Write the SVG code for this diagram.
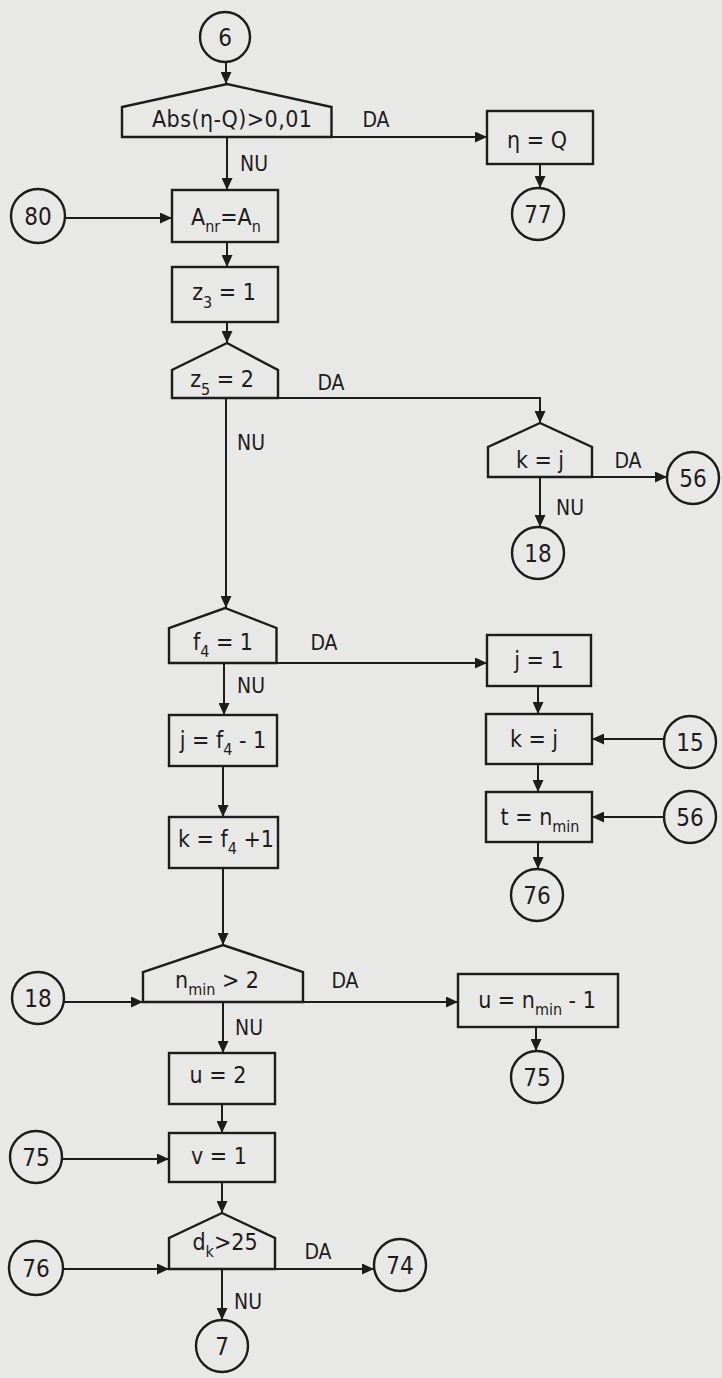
<svg xmlns="http://www.w3.org/2000/svg" width="722" height="1378" viewBox="0 0 722 1378">
<style>
.n{fill:none;stroke:#1c1c1c;stroke-width:2.4;stroke-linejoin:miter}
.c{fill:none;stroke:#1c1c1c;stroke-width:2;marker-end:url(#a)}
text{font-family:"Liberation Sans Narrow","DejaVu Sans Condensed","DejaVu Sans",sans-serif;font-size:23px;fill:#1c1c1c;text-anchor:middle}
.s{font-size:16px}
.k{font-size:21px}
.d{font-size:24px}
</style>
<defs>
<marker id="a" markerWidth="12" markerHeight="11" refX="12" refY="5.5" orient="auto" markerUnits="userSpaceOnUse"><path d="M0,0 L12,5.5 L0,11 z" fill="#1c1c1c"/></marker>
</defs>
<rect width="722" height="1378" fill="#e8e8e6"/>

<g id="connectors">
<path class="c" d="M226,62 V84"/>
<path class="c" d="M331,137 H487"/>
<path class="c" d="M227,137 V190"/>
<path class="c" d="M540,164 V188"/>
<path class="c" d="M65,218 H172"/>
<path class="c" d="M227,242 V267"/>
<path class="c" d="M227,322 V343"/>
<path class="c" d="M278,398 H540 V423"/>
<path class="c" d="M226,398 V608"/>
<path class="c" d="M592,477 H667"/>
<path class="c" d="M540,477 V527"/>
<path class="c" d="M276,663 H487"/>
<path class="c" d="M224,663 V715"/>
<path class="c" d="M538,686 V714"/>
<path class="c" d="M664,739 H592"/>
<path class="c" d="M538,764 V792"/>
<path class="c" d="M664,817 H592"/>
<path class="c" d="M538,842 V869"/>
<path class="c" d="M223,766 V817"/>
<path class="c" d="M223,868 V945"/>
<path class="c" d="M64,1002 H143"/>
<path class="c" d="M303,1002 H458"/>
<path class="c" d="M536,1027 V1051"/>
<path class="c" d="M223,1002 V1053"/>
<path class="c" d="M222,1104 V1133"/>
<path class="c" d="M62,1159 H169"/>
<path class="c" d="M222,1182 V1213"/>
<path class="c" d="M63,1269 H169"/>
<path class="c" d="M275,1269 H374"/>
<path class="c" d="M222,1269 V1320"/>
</g>

<g id="c6"><circle class="n" cx="225" cy="37" r="25"/><text class="d" x="225" y="46">6</text></g>
<g id="dAbs"><path class="n" d="M122,137 V107 L227,84 L331.5,107 V137 Z"/><text x="232" y="127" textLength="160" lengthAdjust="spacing">Abs(η-Q)&gt;0,01</text></g>
<text class="k" x="376" y="127">DA</text>
<text class="k" x="254" y="171">NU</text>
<g id="bEta"><rect class="n" x="487" y="111" width="106" height="53"/><text x="537" y="148">η = Q</text></g>
<g id="c77"><circle class="n" cx="538" cy="214" r="26"/><text class="d" x="538" y="223">77</text></g>
<g id="c80"><circle class="n" cx="38" cy="216" r="27"/><text class="d" x="38" y="225">80</text></g>
<g id="bAnr"><rect class="n" x="172" y="190" width="106" height="52"/><text x="226" y="225">A<tspan class="s" dy="7">nr</tspan><tspan dy="-7">=A</tspan><tspan class="s" dy="7">n</tspan></text></g>
<g id="bZ3"><rect class="n" x="172" y="267" width="106" height="55"/><text x="224" y="300">z<tspan class="s" dy="8">3</tspan><tspan dy="-8"> = 1</tspan></text></g>
<g id="dZ5"><path class="n" d="M172,398 V370 L227,343 L278,370 V398 Z"/><text x="222" y="387">z<tspan class="s" dy="8">5</tspan><tspan dy="-8"> = 2</tspan></text></g>
<text class="k" x="331" y="390">DA</text>
<text class="k" x="251" y="450">NU</text>
<g id="dKj"><path class="n" d="M488,477 V447 L540,423 L592,447 V477 Z"/><text x="540" y="468">k = j</text></g>
<text class="k" x="628" y="468">DA</text>
<text class="k" x="570" y="515">NU</text>
<g id="c56a"><circle class="n" cx="693" cy="478" r="26"/><text class="d" x="693" y="487">56</text></g>
<g id="c18a"><circle class="n" cx="538" cy="553" r="26"/><text class="d" x="538" y="562">18</text></g>
<g id="dF4"><path class="n" d="M169,663 V628 L225,608 L276.5,628 V663 Z"/><text x="223" y="650">f<tspan class="s" dy="7">4</tspan><tspan dy="-7"> = 1</tspan></text></g>
<text class="k" x="324" y="650">DA</text>
<text class="k" x="251" y="693">NU</text>
<g id="bJ1"><rect class="n" x="487" y="635" width="104" height="51"/><text x="539" y="668">j = 1</text></g>
<g id="bJf"><rect class="n" x="169" y="715" width="108" height="51"/><text x="223" y="748">j = f<tspan class="s" dy="7">4</tspan><tspan dy="-7"> - 1</tspan></text></g>
<g id="bKj"><rect class="n" x="486" y="714" width="106" height="50"/><text x="534" y="747">k = j</text></g>
<g id="c15"><circle class="n" cx="690" cy="742" r="26"/><text class="d" x="690" y="751">15</text></g>
<g id="bT"><rect class="n" x="486" y="792" width="106" height="50"/><text x="540" y="825">t = n<tspan class="s" dy="7">min</tspan></text></g>
<g id="c56b"><circle class="n" cx="690" cy="817" r="26"/><text class="d" x="690" y="826">56</text></g>
<g id="c76a"><circle class="n" cx="537" cy="895" r="26"/><text class="d" x="537" y="904">76</text></g>
<g id="bKf"><rect class="n" x="169" y="817" width="109" height="51"/><text x="226" y="847">k = f<tspan class="s" dy="7">4</tspan><tspan dy="-7"> +1</tspan></text></g>
<g id="dNmin"><path class="n" d="M143,1002 V972 L223,945 L303,972 V1002 Z"/><text x="217" y="988">n<tspan class="s" dy="7">min</tspan><tspan dy="-7"> &gt;  2</tspan></text></g>
<text class="k" x="345" y="988">DA</text>
<g id="c18b"><circle class="n" cx="38" cy="998" r="26"/><text class="d" x="38" y="1007">18</text></g>
<g id="bU1"><rect class="n" x="458" y="974" width="160" height="53"/><text x="537" y="1008">u = n<tspan class="s" dy="7">min</tspan><tspan dy="-7"> - 1</tspan></text></g>
<g id="c75a"><circle class="n" cx="537" cy="1077" r="26"/><text class="d" x="537" y="1086">75</text></g>
<text class="k" x="249" y="1035">NU</text>
<g id="bU2"><rect class="n" x="169" y="1053" width="106" height="51"/><text x="218" y="1083">u = 2</text></g>
<g id="bV1"><rect class="n" x="169" y="1133" width="106" height="49"/><text x="219" y="1164">v = 1</text></g>
<g id="c75b"><circle class="n" cx="36" cy="1157" r="26"/><text class="d" x="36" y="1166">75</text></g>
<g id="dDk"><path class="n" d="M169,1269 V1238 L222,1213 L275,1238 V1269 Z"/><text x="225" y="1250">d<tspan class="s" dy="7">k</tspan><tspan dy="-7">&gt;25</tspan></text></g>
<text class="k" x="318" y="1259">DA</text>
<text class="k" x="248" y="1309">NU</text>
<g id="c76b"><circle class="n" cx="36" cy="1268" r="27"/><text class="d" x="36" y="1277">76</text></g>
<g id="c74"><circle class="n" cx="400" cy="1265" r="26"/><text class="d" x="400" y="1274">74</text></g>
<g id="c7"><circle class="n" cx="222" cy="1346" r="26"/><text class="d" x="222" y="1355">7</text></g>
</svg>
